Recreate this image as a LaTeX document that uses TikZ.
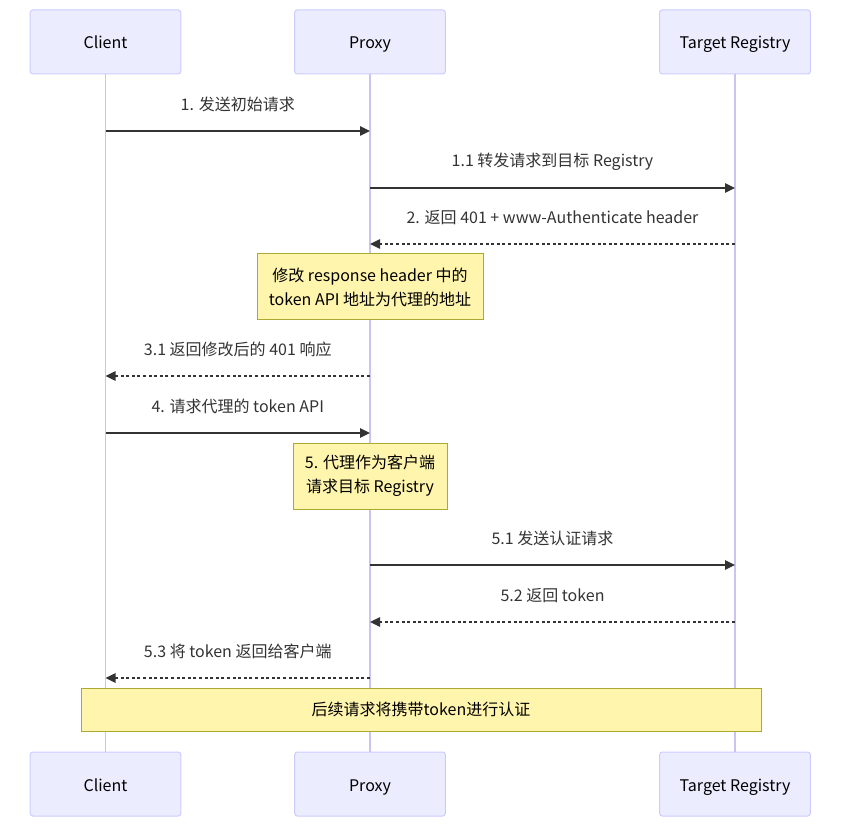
\documentclass[tikz,border=0pt]{standalone}
\usepackage{fontspec}
\setmainfont{Noto Sans CJK SC}
\usetikzlibrary{arrows.meta}
\definecolor{actorfill}{HTML}{ECECFF}
\definecolor{actorline}{HTML}{CCCCFF}
\definecolor{lifeline}{HTML}{CAC4F0}
\definecolor{notefill}{HTML}{FFF5AD}
\definecolor{noteline}{HTML}{AAAA33}
\definecolor{ink}{HTML}{333333}
\tikzset{
  actor/.style={draw=actorline, fill=actorfill, rounded corners=2pt, line width=0.75pt,
    minimum width=113pt, minimum height=48pt, text height=10.5pt, text depth=0pt,
    text=black, font=\fontsize{12}{15}\selectfont},
  lifeline/.style={draw=lifeline, line width=1pt},
  msg/.style={draw=ink, line width=1.1pt, -{Triangle[length=7.5pt,width=7pt]}},
  reply/.style={msg, dash pattern=on 2.2pt off 2pt},
  lbl/.style={midway, yshift=20pt, text=ink, font=\fontsize{12}{15}\selectfont},
  note/.style={draw=noteline, fill=notefill, line width=0.75pt, align=center, text=black,
    font=\fontsize{12}{18}\selectfont}
}
\begin{document}
\begin{tikzpicture}[x=0.75pt,y=0.75pt,yscale=-1,xscale=1]
\useasboundingbox (0,0) rectangle (847,831);

%Actors top
\node[actor] (client) at (105.5,42) {Client};
\node[actor] (proxy) at (370,42) {Proxy};
\node[actor] (registry) at (735,42) {Target Registry};
%Actors bottom
\node[actor] (clientB) at (105.5,784) {Client};
\node[actor] (proxyB) at (370,784) {Proxy};
\node[actor] (registryB) at (735,784) {Target Registry};

%Lifelines
\draw[lifeline] (client) -- (clientB);
\draw[lifeline] (proxy) -- (proxyB);
\draw[lifeline] (registry) -- (registryB);

%Messages
\draw[msg] (client |- 0,131) -- (proxy |- 0,131) node[lbl] {1. 发送初始请求};
\draw[msg] (proxy |- 0,188) -- (registry |- 0,188) node[lbl] {1.1 转发请求到目标 Registry};
\draw[reply] (registry |- 0,244) -- (proxy |- 0,244) node[lbl] {2. 返回 401 + www-Authenticate header};

\node[note, minimum width=169.5pt, minimum height=49.5pt] (note1) at (370,287)
  {修改 response header 中的\\token API 地址为代理的地址};

\draw[reply] (proxy |- 0,376) -- (client |- 0,376) node[lbl] {3.1 返回修改后的 401 响应};
\draw[msg] (client |- 0,433) -- (proxy |- 0,433) node[lbl] {4. 请求代理的 token API};

\node[note, minimum width=115.5pt, minimum height=49.5pt] (note2) at (370,476)
  {5. 代理作为客户端\\请求目标 Registry};

\draw[msg] (proxy |- 0,565) -- (registry |- 0,565) node[lbl] {5.1 发送认证请求};
\draw[reply] (registry |- 0,622) -- (proxy |- 0,622) node[lbl] {5.2 返回 token};
\draw[reply] (proxy |- 0,678) -- (client |- 0,678) node[lbl] {5.3 将 token 返回给客户端};

\node[note, minimum width=510pt, minimum height=32.25pt] (note3) at (421,709.5)
  {后续请求将携带token进行认证};
\end{tikzpicture}
\end{document}
